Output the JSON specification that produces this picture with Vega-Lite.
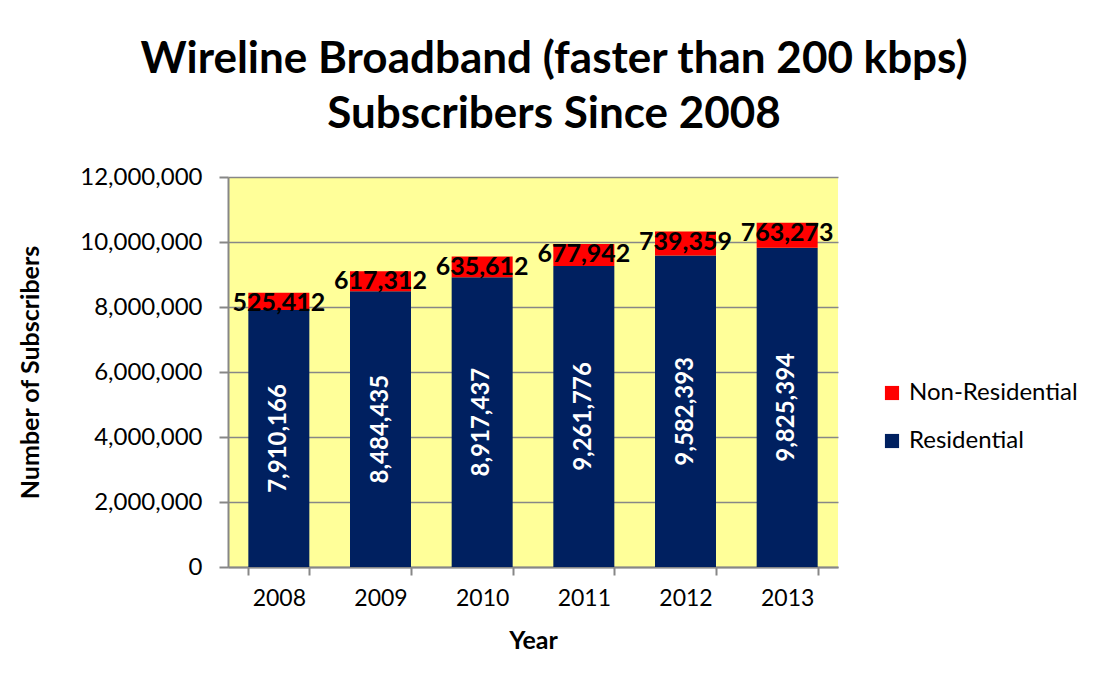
{
  "$schema": "https://vega.github.io/schema/vega-lite/v6.json",
  "width": 610,
  "height": 390,
  "autosize": {"type": "none"},
  "padding": {"left": 228, "top": 177, "right": 256, "bottom": 118},
  "background": "white",
  "config": {"font": "Lato", "view": {"fill": "#FFFF99", "stroke": null}},
  "title": {
    "text": ["Wireline Broadband (faster than 200 kbps)", "Subscribers Since 2008"],
    "fontSize": 44,
    "fontWeight": "bold",
    "font": "Lato",
    "lineHeight": 55,
    "anchor": "middle",
    "dx": 21,
    "offset": 28,
    "color": "black"
  },
  "data": {
    "values": [
      {"year": "2008", "type": "Residential", "value": 7910166},
      {"year": "2008", "type": "Non-Residential", "value": 525412},
      {"year": "2009", "type": "Residential", "value": 8484435},
      {"year": "2009", "type": "Non-Residential", "value": 617312},
      {"year": "2010", "type": "Residential", "value": 8917437},
      {"year": "2010", "type": "Non-Residential", "value": 635612},
      {"year": "2011", "type": "Residential", "value": 9261776},
      {"year": "2011", "type": "Non-Residential", "value": 677942},
      {"year": "2012", "type": "Residential", "value": 9582393},
      {"year": "2012", "type": "Non-Residential", "value": 739359},
      {"year": "2013", "type": "Residential", "value": 9825394},
      {"year": "2013", "type": "Non-Residential", "value": 763273}
    ]
  },
  "layer": [
    {
      "mark": {"type": "bar"},
      "encoding": {
        "x": {
          "field": "year",
          "type": "ordinal",
          "scale": {"paddingInner": 0.4, "paddingOuter": 0.2},
          "axis": {
            "title": "Year",
            "titleFontSize": 25,
            "titleFontWeight": "bold",
            "titleColor": "black",
            "labelFontSize": 23,
            "labelColor": "black",
            "labelAngle": 0,
            "tickBand": "extent",
            "tickColor": "#878787",
            "tickWidth": 2,
            "tickSize": 8,
            "domainColor": "#878787",
            "domainWidth": 2,
            "labelPadding": 12,
            "titlePadding": 18
          }
        },
        "y": {
          "field": "value",
          "type": "quantitative",
          "stack": "zero",
          "scale": {"domain": [0, 12000000], "nice": false},
          "axis": {
            "title": "Number of Subscribers",
            "titleFontSize": 25,
            "titleFontWeight": "bold",
            "titleColor": "black",
            "titlePadding": 36,
            "labelFontSize": 24,
            "labelColor": "black",
            "values": [0, 2000000, 4000000, 6000000, 8000000, 10000000, 12000000],
            "format": ",d",
            "grid": true,
            "gridColor": "#878787",
            "gridWidth": 1.5,
            "domainColor": "#878787",
            "domainWidth": 2,
            "tickColor": "#878787",
            "tickWidth": 2,
            "tickSize": 9,
            "labelPadding": 17
          }
        },
        "color": {
          "field": "type",
          "type": "nominal",
          "scale": {"domain": ["Non-Residential", "Residential"], "range": ["#FF0000", "#002060"]},
          "legend": {
            "title": null,
            "orient": "none",
            "legendX": 652,
            "legendY": 204,
            "symbolType": "square",
            "symbolSize": 200,
            "symbolStrokeWidth": 0,
            "labelFontSize": 24,
            "labelColor": "black",
            "labelOffset": 5,
            "labelLimit": 400,
            "rowPadding": 24
          }
        },
        "order": {"field": "type", "sort": "descending"}
      }
    },
    {
      "transform": [{"filter": "datum.type === 'Residential'"}],
      "mark": {"type": "text", "angle": 270, "color": "white", "fontWeight": "bold", "fontSize": 24, "baseline": "middle", "align": "center"},
      "encoding": {
        "x": {"field": "year", "type": "ordinal"},
        "y": {"field": "value", "type": "quantitative", "scale": {"domain": [0, 24000000], "nice": false}, "axis": null},
        "text": {"field": "value", "type": "quantitative", "format": ",d"}
      }
    },
    {
      "transform": [
        {"stack": "value", "groupby": ["year"], "sort": [{"field": "type", "order": "descending"}], "as": ["v0", "v1"]},
        {"filter": "datum.type === 'Non-Residential'"}
      ],
      "mark": {"type": "text", "fontWeight": "bold", "fontSize": 25, "baseline": "middle", "dy": 10, "color": "black"},
      "encoding": {
        "x": {"field": "year", "type": "ordinal"},
        "y": {"field": "v1", "type": "quantitative", "scale": {"domain": [0, 12000000], "nice": false}, "axis": null},
        "text": {"field": "value", "type": "quantitative", "format": ",d"}
      }
    }
  ],
  "resolve": {"scale": {"y": "independent"}}
}
